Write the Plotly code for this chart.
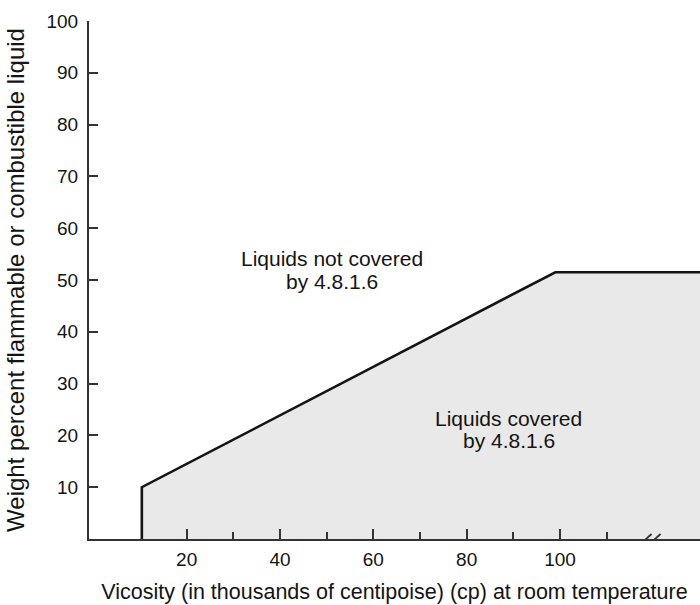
import plotly.graph_objects as go

# Boundary of the "covered" region (viscosity in thousands of cp, weight percent)
boundary_x = [10.4, 10.4, 99, 140]
boundary_y = [0, 10, 51.5, 51.5]

x_major_ticks = [20, 40, 60, 80, 100]
x_minor_ticks = [30, 50, 70, 90, 110]
y_ticks = [10, 20, 30, 40, 50, 60, 70, 80, 90, 100]
axis_break_x = 119.4

# region labels, one entry per text line
label_lines = ["Liquids not covered", "by 4.8.1.6", "Liquids covered", "by 4.8.1.6"]
label_x = [51.2, 51.2, 89.0, 89.0]
label_y = [54.1, 49.8, 23.3, 19.1]

FONT = "Liberation Sans, Arial, Helvetica, sans-serif"
INK = "#141414"
AXIS = "#333333"

fig = go.Figure()
fig.add_trace(go.Scatter(
    x=boundary_x, y=boundary_y, mode="lines",
    line=dict(color=INK, width=2.6),
    fill="tozeroy", fillcolor="#e9e9e9",
    hoverinfo="skip", showlegend=False,
))

for txt, ax, ay in zip(label_lines, label_x, label_y):
    fig.add_annotation(x=ax, y=ay, text=txt, showarrow=False,
                       font=dict(family=FONT, size=21, color=INK), align="center")

# axis break marks "//"
for dx in (0, 9):
    fig.add_shape(type="line", xref="x", yref="y", xsizemode="pixel", ysizemode="pixel",
                  xanchor=axis_break_x, yanchor=0,
                  x0=-10 + dx, y0=-5, x1=1 + dx, y1=5,
                  line=dict(color=AXIS, width=1.8))

fig.update_layout(
    width=700, height=605,
    margin=dict(l=89, r=0, t=21, b=66),
    paper_bgcolor="white", plot_bgcolor="white",
    font=dict(family=FONT, color=INK, size=19),
    showlegend=False,
)
fig.update_xaxes(
    range=[-0.92, 130], showgrid=False, zeroline=False, automargin=False,
    showline=True, linecolor=AXIS, linewidth=2,
    tickmode="array", tickvals=x_major_ticks, ticktext=[str(v) for v in x_major_ticks],
    ticks="inside", ticklen=10, tickwidth=1.5, tickcolor=AXIS,
    tickfont=dict(size=19, color=INK), ticklabelstandoff=2,
    minor=dict(tickmode="array", tickvals=x_minor_ticks, ticks="inside", ticklen=7,
               tickwidth=1.5, tickcolor=AXIS, showgrid=False),
    title=dict(text="Vicosity (in thousands of centipoise) (cp) at room temperature",
               font=dict(size=21.5, color=INK), standoff=15),
)
fig.update_yaxes(
    range=[0, 100], showgrid=False, zeroline=False, automargin=False,
    showline=True, linecolor=AXIS, linewidth=2,
    tickmode="array", tickvals=y_ticks, ticktext=[str(v) for v in y_ticks],
    ticks="inside", ticklen=9, tickwidth=1.5, tickcolor=AXIS,
    tickfont=dict(size=19, color=INK), ticklabelstandoff=5,
    title=dict(text="Weight percent flammable or combustible liquid",
               font=dict(size=24, color=INK), standoff=15),
)

fig.write_html("out.html", config={"displayModeBar": False},
               post_script="document.body.style.margin='0';")
